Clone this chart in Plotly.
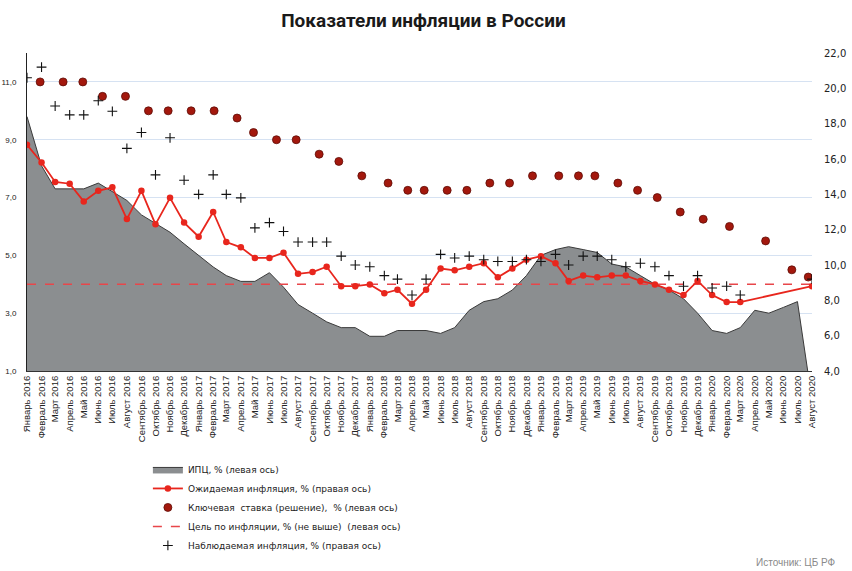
import plotly.graph_objects as go

months_ru = ["Январь", "Февраль", "Март", "Апрель", "Май", "Июнь", "Июль",
             "Август", "Сентябрь", "Октябрь", "Ноябрь", "Декабрь"]

# Monthly dates Jan 2016 .. Aug 2020
dates = []
labels = []
for y in range(2016, 2021):
    for m in range(1, 13):
        if y == 2020 and m > 8:
            break
        dates.append(f"{y}-{m:02d}-01")
        labels.append(f"{months_ru[m-1]} {y}")

cpi = [9.8, 8.1, 7.3, 7.3, 7.3, 7.5, 7.2, 6.9, 6.4, 6.1, 5.8, 5.4,
       5.0, 4.6, 4.3, 4.1, 4.1, 4.4, 3.9, 3.3, 3.0, 2.7, 2.5, 2.5,
       2.2, 2.2, 2.4, 2.4, 2.4, 2.3, 2.5, 3.1, 3.4, 3.5, 3.8, 4.3,
       5.0, 5.2, 5.3, 5.2, 5.1, 4.7, 4.6, 4.3, 4.0, 3.8, 3.5, 3.0,
       2.4, 2.3, 2.5, 3.1, 3.0, 3.2, 3.4, 0.0]

expected = [16.8, 15.8, 14.7, 14.6, 13.6, 14.2, 14.4, 12.6, 14.2, 12.3, 13.8, 12.4,
            11.6, 13.0, 11.3, 11.0, 10.4, 10.4, 10.7, 9.5, 9.6, 9.9, 8.8, 8.8,
            8.9, 8.4, 8.6, 7.8, 8.6, 9.8, 9.7, 9.9, 10.1, 9.3, 9.8, 10.3,
            10.5, 10.1, 9.1, 9.4, 9.3, 9.4, 9.4, 9.1, 8.9, 8.6, 8.3, 9.1,
            8.3, 7.9, 7.9, None, None, None, None, 8.8]

observed = [20.6, 21.2, 19.0, 18.5, 18.5, 19.3, 18.7, 16.6, 17.5, 15.1, 17.2, 14.8,
            14.0, 15.1, 14.0, 13.8, 12.1, 12.4, 11.9, 11.3, 11.3, 11.3, 10.5, 10.0,
            9.9, 9.4, 9.2, 8.3, 9.2, 10.6, 10.4, 10.5, 10.3, 10.2, 10.2, 10.3,
            10.2, 10.6, 10.0, 10.5, 10.5, 10.3, 9.9, 10.1, 9.9, 9.4, 8.8, 9.4,
            8.7, 8.8, 8.3, None, None, None, None, 9.2]

target = [4.0] * len(dates)

rate_dates = ["2016-01-29", "2016-03-18", "2016-04-29", "2016-06-10", "2016-07-29",
              "2016-09-16", "2016-10-28", "2016-12-16", "2017-02-03", "2017-03-24",
              "2017-04-28", "2017-06-16", "2017-07-28", "2017-09-15", "2017-10-27",
              "2017-12-15", "2018-02-09", "2018-03-23", "2018-04-27", "2018-06-15",
              "2018-07-27", "2018-09-14", "2018-10-26", "2018-12-14", "2019-02-08",
              "2019-03-22", "2019-04-26", "2019-06-14", "2019-07-26", "2019-09-06",
              "2019-10-25", "2019-12-13", "2020-02-07", "2020-04-24", "2020-06-19",
              "2020-07-24"]
rate_values = [11.0, 11.0, 11.0, 10.5, 10.5, 10.0, 10.0, 10.0, 10.0, 9.75,
               9.25, 9.0, 9.0, 8.5, 8.25, 7.75, 7.5, 7.25, 7.25, 7.25,
               7.25, 7.5, 7.5, 7.75, 7.75, 7.75, 7.75, 7.5, 7.25, 7.0,
               6.5, 6.25, 6.0, 5.5, 4.5, 4.25]

left_ticks = [1, 3, 5, 7, 9, 11]
left_ticktext = ["1,0", "3,0", "5,0", "7,0", "9,0", "11,0"]
right_ticks = [4, 6, 8, 10, 12, 14, 16, 18, 20, 22]
right_ticktext = ["4,0", "6,0", "8,0", "10,0", "12,0", "14,0", "16,0", "18,0", "20,0", "22,0"]

fig = go.Figure()

fig.add_trace(go.Scatter(
    x=dates, y=cpi, name="ИПЦ, % (левая ось)", mode="lines",
    fill="tozeroy", fillcolor="#8b8e90",
    line=dict(color="#3a3a3a", width=1), yaxis="y", legendrank=1))

fig.add_trace(go.Scatter(
    x=dates, y=target, name="Цель по инфляции, % (не выше)  (левая ось)", mode="lines",
    line=dict(color="#e8464a", width=1.5, dash="dash"), yaxis="y", legendrank=4))

fig.add_trace(go.Scatter(
    x=dates, y=expected, name="Ожидаемая инфляция, % (правая ось)", mode="lines+markers",
    connectgaps=True,
    line=dict(color="#e8261d", width=1.8), marker=dict(color="#e8261d", size=6.5),
    yaxis="y2", legendrank=2))

fig.add_trace(go.Scatter(
    x=rate_dates, y=rate_values, name="Ключевая  ставка (решение),  % (левая ось)", mode="markers",
    marker=dict(color="#a3180d", size=8, line=dict(color="#5e0c06", width=0.8)),
    yaxis="y", legendrank=3))

fig.add_trace(go.Scatter(
    x=dates, y=observed, name="Наблюдаемая инфляция, % (правая ось)", mode="markers",
    marker=dict(symbol="cross-thin", size=7, line=dict(color="#111111", width=1.1)),
    yaxis="y2", legendrank=5))

fig.update_layout(
    width=852, height=571,
    margin=dict(l=27, r=40, t=53, b=200, autoexpand=False),
    paper_bgcolor="white", plot_bgcolor="white",
    title=dict(text="<b>Показатели инфляции в России</b>", x=0.497, xanchor="center",
               y=1 - 20 / 571, yanchor="middle",
               font=dict(family="Roboto", size=19, color="#1a1a1a")),
    showlegend=True,
    legend=dict(x=0.154, xanchor="left", y=-0.264, yanchor="top",
                font=dict(family="DejaVu Sans", size=9, color="#222222"),
                bgcolor="rgba(0,0,0,0)", traceorder="normal"),
    xaxis=dict(type="date", range=["2016-01-01", "2020-08-01"],
               tickvals=dates, ticktext=labels, tickangle=-90,
               tickfont=dict(family="Liberation Sans Narrow, Liberation Sans", size=9.5, color="#222222"),
               showgrid=False, showline=True, linecolor="#333333", linewidth=1,
               ticks="", zeroline=False, automargin=False),
    yaxis=dict(range=[1, 12], tickvals=left_ticks, ticktext=left_ticktext,
               tickfont=dict(family="Liberation Sans", size=8, color="#222222"),
               showgrid=True, gridcolor="#d6e2f2", gridwidth=1,
               showline=True, linecolor="#222222", linewidth=1,
               zeroline=False, ticks="", ticklabelstandoff=8, automargin=False),
    yaxis2=dict(range=[4, 22], tickvals=right_ticks, ticktext=right_ticktext,
                overlaying="y", side="right",
                tickfont=dict(family="DejaVu Sans", size=10, color="#222222"),
                showgrid=False, showline=False, zeroline=False, ticks="",
                ticklabelstandoff=11, automargin=False),
    annotations=[dict(text="Источник: ЦБ РФ", xref="paper", yref="paper",
                      x=(838 - 27) / 785, xanchor="right", y=-(562 - 371) / 318,
                      yanchor="middle", showarrow=False,
                      font=dict(family="Liberation Sans", size=10, color="#8a8a8a"))],
)

fig.write_html("out.html",
               config={"displayModeBar": False},
               post_script="document.body.style.margin='0px';"
                           "document.body.style.overflow='hidden';")
